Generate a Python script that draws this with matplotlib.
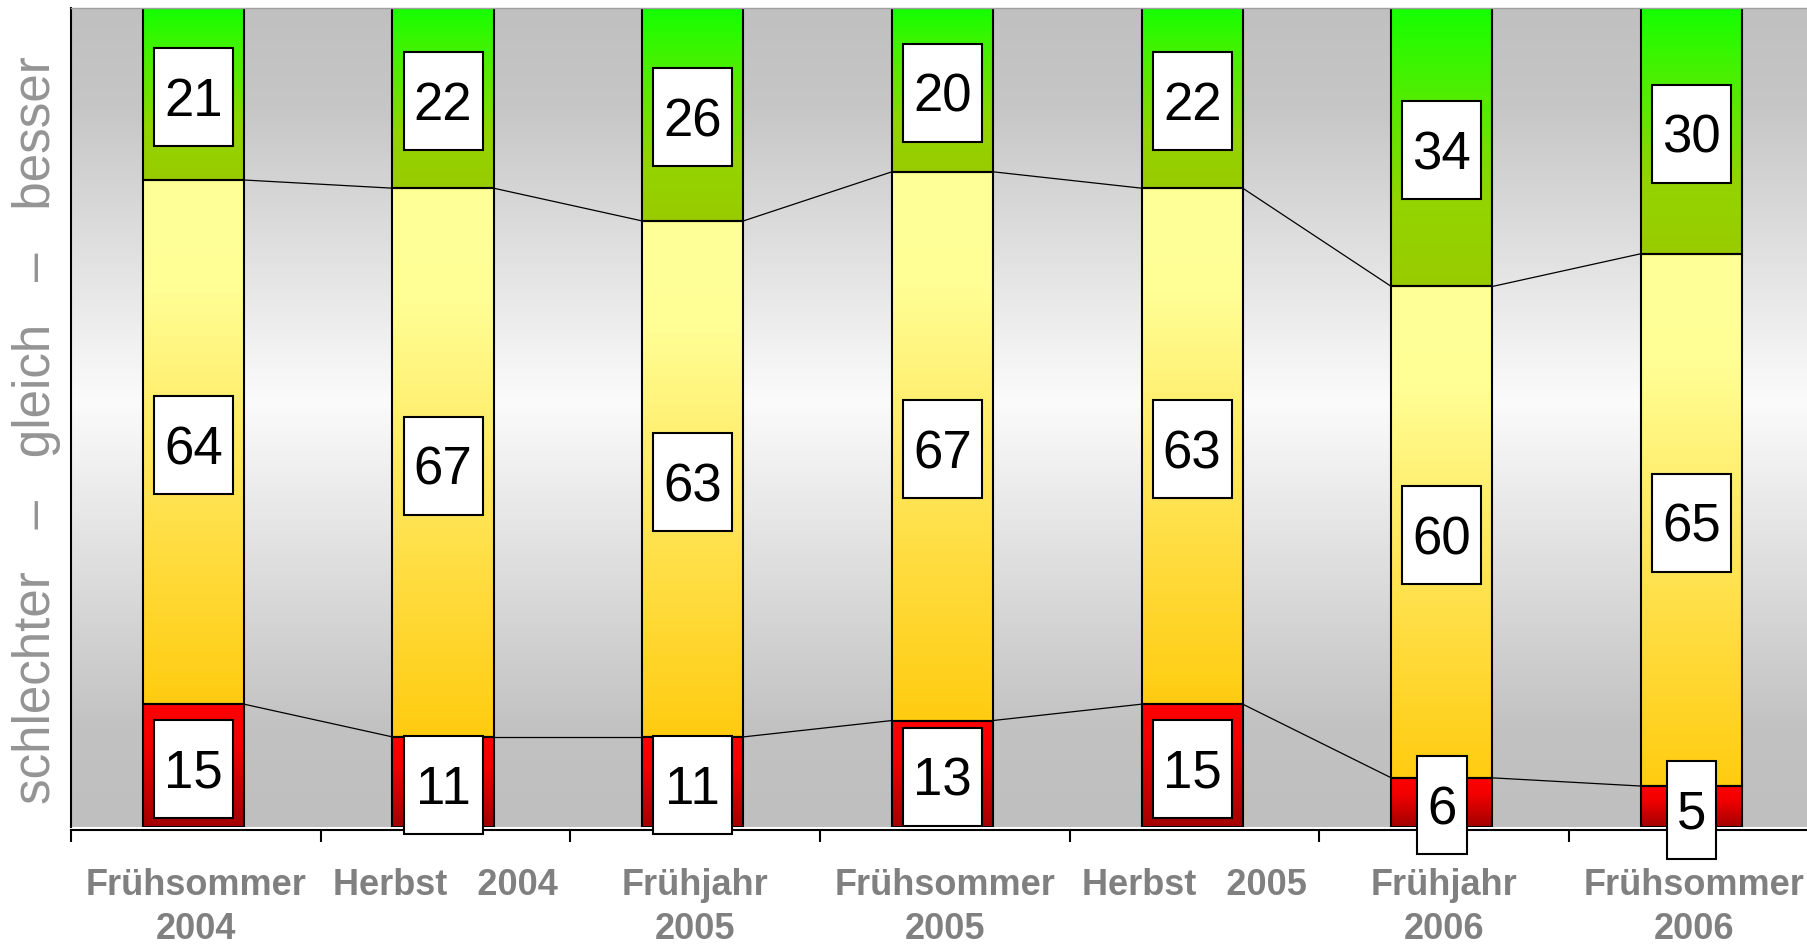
import numpy as np
import matplotlib
matplotlib.use("Agg")
import matplotlib.pyplot as plt
from matplotlib.colors import LinearSegmentedColormap
import matplotlib.transforms as mtransforms
from matplotlib.patches import Rectangle

# ---------------- data ----------------
categories = ["Frühsommer\n2004", "Herbst   2004", "Frühjahr\n2005",
              "Frühsommer\n2005", "Herbst   2005", "Frühjahr\n2006",
              "Frühsommer\n2006"]
schlechter = [15, 11, 11, 13, 15, 6, 5]
gleich = [64, 67, 63, 67, 63, 60, 65]
besser = [21, 22, 26, 20, 22, 34, 30]
ylabel_text = "schlechter   –   gleich   –   besser"

# ---------------- figure ----------------
plt.rcParams['font.family'] = ['Liberation Sans', 'DejaVu Sans']
W, H, DPI = 1808, 946, 100
fig = plt.figure(figsize=(W / DPI, H / DPI), dpi=DPI)
fig.patch.set_facecolor('white')

left_px, cat_px = 71, 249.7
right_px = left_px + 7 * cat_px
top_px, bottom_px = 8, 827
ax = fig.add_axes([left_px / W, (H - bottom_px) / H,
                   (right_px - left_px) / W, (bottom_px - top_px) / H])

# background gradient (gray - white - gray)
bg_cmap = LinearSegmentedColormap.from_list(
    "bg", [(0.0, "#bfbfbf"), (0.12, "#c2c2c2"), (0.52, "#fbfbfb"),
           (0.88, "#c6c6c6"), (1.0, "#c0c0c0")])
grad = np.linspace(0, 1, 512).reshape(-1, 1)
ax.imshow(grad, cmap=bg_cmap, extent=[0, 1, 0, 1], transform=ax.transAxes,
          origin='lower', aspect='auto', zorder=0, interpolation='bilinear')
ax.set_facecolor('none')

# segment colormaps: value 0 = top of segment, 1 = bottom
cm_red = LinearSegmentedColormap.from_list(
    "r", [(0.0, "#ff0000"), (0.35, "#f20000"), (1.0, "#a30000")])
cm_yel = LinearSegmentedColormap.from_list(
    "y", [(0.0, "#ffff99"), (0.2, "#ffff96"), (0.55, "#ffe65a"), (1.0, "#ffcc10")])
cm_grn = LinearSegmentedColormap.from_list(
    "g", [(0.0, "#14ff00"), (0.2, "#3cf500"), (0.7, "#93d400"), (1.0, "#99cc00")])

x = np.arange(len(categories))
xb = x - 0.01          # bars sit a hair left of the category centre
bw = 0.405
series = [(schlechter, cm_red), (gleich, cm_yel), (besser, cm_grn)]
seg_grad = np.linspace(0, 1, 256).reshape(-1, 1)

bottoms = np.zeros(len(x))
levels = []
segments = []
for vals, cmap in series:
    vals = np.asarray(vals, dtype=float)
    bars = ax.bar(xb, vals, bw, bottom=bottoms, facecolor='none',
                  edgecolor='black', linewidth=1.5, zorder=4)
    for rect in bars:
        x0, y0 = rect.get_x(), rect.get_y()
        ax.imshow(seg_grad, cmap=cmap, origin='upper', aspect='auto',
                  extent=[x0, x0 + rect.get_width(), y0, y0 + rect.get_height()],
                  zorder=3, interpolation='bilinear')
    for i, v in enumerate(vals):
        segments.append((xb[i], bottoms[i] + v / 2.0, int(v)))
    bottoms = bottoms + vals
    levels.append(bottoms.copy())

# series lines between bars
for lev in levels[:-1]:
    for i in range(len(x) - 1):
        ax.plot([xb[i] + bw / 2, xb[i + 1] - bw / 2], [lev[i], lev[i + 1]],
                color='black', lw=0.9, zorder=2.5)

# value label boxes
box_h = 98.0
digit_w = 29.5
for xi, yc, v in segments:
    s = str(v)
    bw_px = 20 + digit_w * len(s)
    tr = mtransforms.Affine2D() + mtransforms.ScaledTranslation(xi, yc, ax.transData)
    r = Rectangle((-bw_px / 2, -box_h / 2 - 3), bw_px, box_h, transform=tr,
                  facecolor='white', edgecolor='black', linewidth=1.5, zorder=6)
    ax.add_patch(r)
    r.set_clip_on(False)
    ax.annotate(s, xy=(xi, yc), xytext=(0, -13.7 - 2.2), textcoords='offset points',
                ha='center', va='baseline', fontsize=38, color='black',
                zorder=7, annotation_clip=False)

# axes limits / spines / ticks
ax.set_xlim(-0.5, len(x) - 0.5)
ax.set_ylim(0, 100)
ax.set_yticks([])
ax.spines['right'].set_visible(False)
ax.spines['top'].set_color('#a0a0a0')
ax.spines['top'].set_linewidth(1.0)
ax.spines['left'].set_color('black')
ax.spines['left'].set_linewidth(1.5)
ax.spines['bottom'].set_color('black')
ax.spines['bottom'].set_linewidth(1.5)
ax.spines['bottom'].set_position(('outward', 2))
for sp in ax.spines.values():
    sp.set_zorder(5)

ax.set_xticks(np.arange(-0.5, len(x), 1.0))
ax.set_xticklabels([])
ax.tick_params(axis='x', which='major', direction='out', length=8.6,
               width=1.5, color='black')
ax.set_xticks(x, minor=True)
ax.set_xticklabels(categories, minor=True)
ax.tick_params(axis='x', which='minor', length=0, pad=27.5)
for lbl in ax.get_xticklabels(minor=True):
    lbl.set_fontsize(26)
    lbl.set_fontweight('bold')
    lbl.set_color('#808080')
    lbl.set_linespacing(1.35)

fig.text(37 / W, 1 - 430 / H, ylabel_text, rotation=90, ha='center',
         va='center', fontsize=36.8, color='#949494')

fig.savefig("out.png", dpi=DPI, facecolor='white')
